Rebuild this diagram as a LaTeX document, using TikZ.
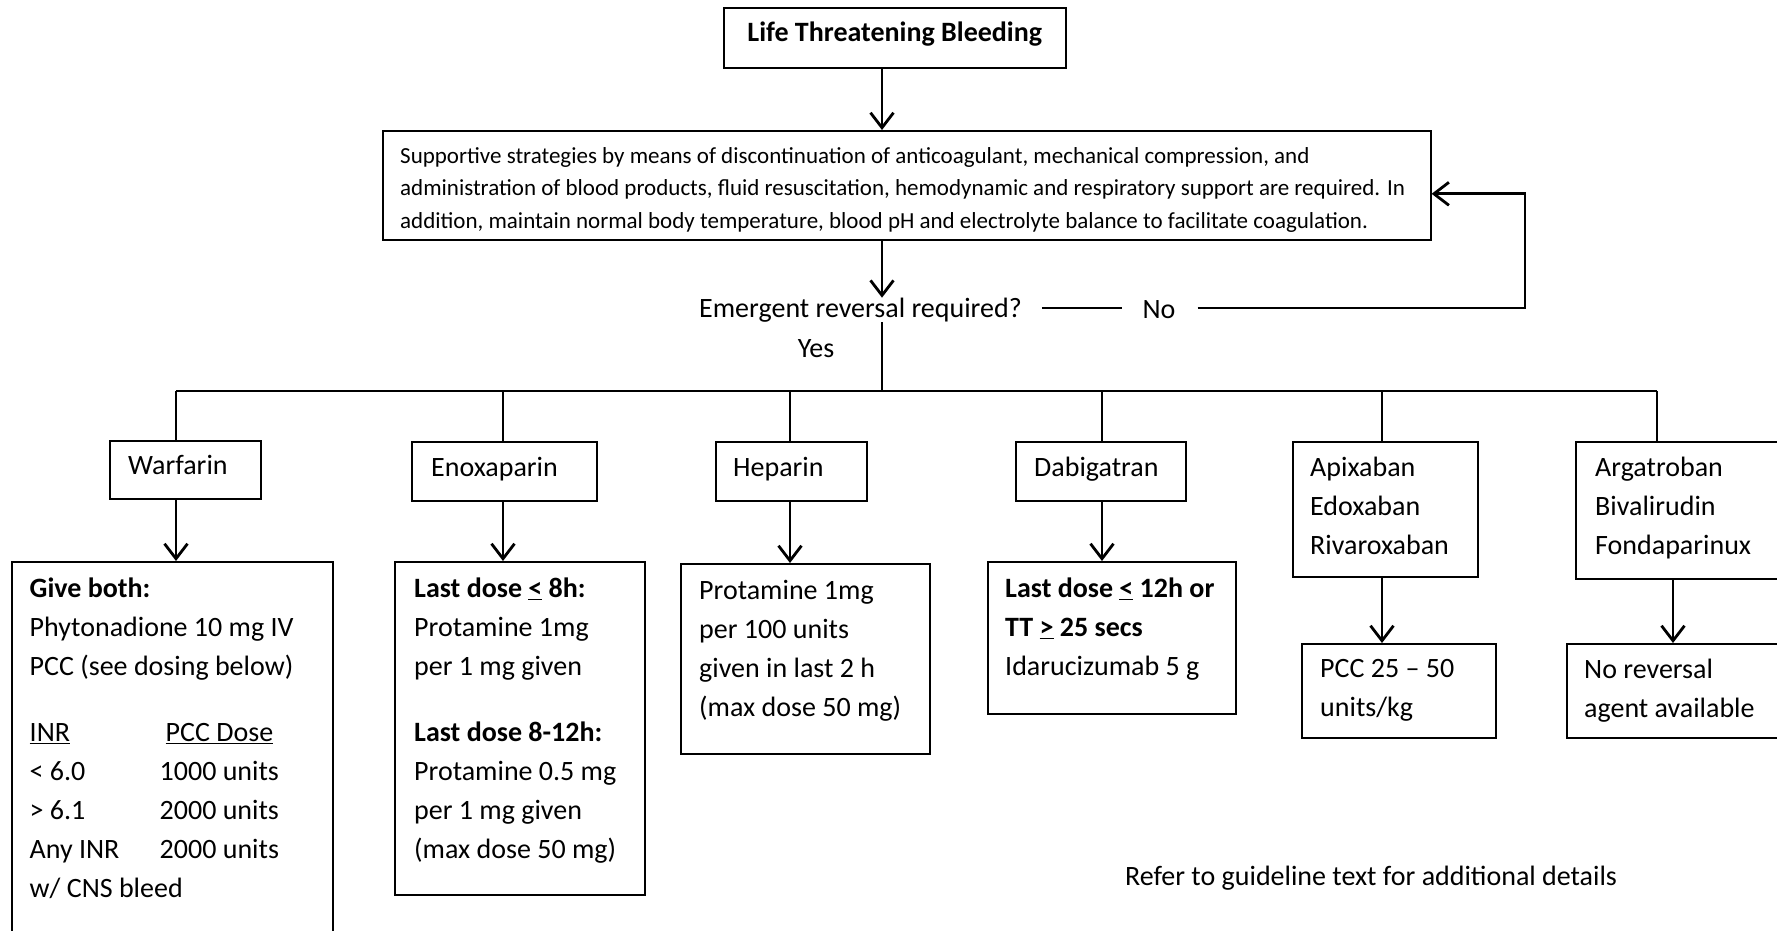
\documentclass[tikz,border=0pt]{standalone}
\usepackage{fontspec}
\setmainfont{Carlito}
\usetikzlibrary{arrows.meta}
\begin{document}
\begin{tikzpicture}[x=1pt,y=-1pt,
  box/.style={draw, line width=1.6pt, inner sep=0pt, anchor=north west},
  txt/.style={anchor=north west, align=left, inner sep=0pt, font=\fontsize{28}{39}\selectfont},
  conn/.style={line width=2.8pt},
  arr/.style={line width=2.8pt, -{Straight Barb[length=15pt,width=23pt]}}]
\useasboundingbox (0,0) rectangle (1777,930);
\fill[white] (0,0) rectangle (1777,930);
\clip (0,0) rectangle (1777,930);
% top
\node[box, minimum width=342pt, minimum height=60pt, text height=20pt, text depth=12pt, font=\fontsize{28}{30}\selectfont\bfseries] (top) at (723,7) {Life Threatening Bleeding};
\node[box, minimum width=1048pt, minimum height=109pt] (supp) at (382,130) {};
\node[txt, font=\fontsize{23}{32.5}\selectfont] (suppt) at (400,147) {Supportive strategies by means of discontinuation of anticoagulant, mechanical compression, and\\
administration of blood products, fluid resuscitation, hemodynamic and respiratory support are required.  In\\
addition, maintain normal body temperature, blood pH and electrolyte balance to facilitate coagulation.};
\node[txt, anchor=west] (q) at (699,310) {Emergent reversal required?};
\node[txt, anchor=center] (no) at (1159,310) {No};
\node[txt, anchor=center] (yes) at (816,349) {Yes};
% drug boxes
\node[box, minimum width=151pt, minimum height=58pt] (warf) at (109,440) {};
\node[txt] (warft) at (128,455) {Warfarin};
\node[box, minimum width=185pt, minimum height=59pt] (enox) at (411,441) {};
\node[txt] (enoxt) at (431,457) {Enoxaparin};
\node[box, minimum width=151pt, minimum height=59pt] (hep) at (715,441) {};
\node[txt] (hept) at (733,457) {Heparin};
\node[box, minimum width=170pt, minimum height=59pt] (dab) at (1015,441) {};
\node[txt] (dabt) at (1034,457) {Dabigatran};
\node[box, minimum width=185pt, minimum height=135pt] (apix) at (1292,441) {};
\node[txt] (apixt) at (1310,457) {Apixaban\\Edoxaban\\Rivaroxaban};
\node[box, minimum width=215pt, minimum height=137pt] (arg) at (1575,441) {};
\node[txt] (argt) at (1595,457) {Argatroban\\Bivalirudin\\Fondaparinux};
% result boxes
\node[box, minimum width=321pt, minimum height=400pt] (warfr) at (11,561) {};
\node[txt] (warfrt) at (29.5,578) {\textbf{Give both:}\\
Phytonadione 10 mg IV\\
PCC (see dosing below)\\[27pt]
\makebox[136pt][l]{\underline{INR}}\underline{PCC Dose}\\
\makebox[130pt][l]{< 6.0}1000 units\\
\makebox[130pt][l]{> 6.1}2000 units\\
\makebox[130pt][l]{Any INR}2000 units\\
w/ CNS bleed};
\node[box, minimum width=250pt, minimum height=333pt] (enoxr) at (394,561) {};
\node[txt] (enoxrt) at (414,578) {\textbf{Last dose \underline{<} 8h:}\\
Protamine 1mg\\
per 1 mg given\\[27pt]
\textbf{Last dose 8-12h:}\\
Protamine 0.5 mg\\
per 1 mg given\\
(max dose 50 mg)};
\node[box, minimum width=249pt, minimum height=190pt] (hepr) at (680,563) {};
\node[txt] (heprt) at (699,580) {Protamine 1mg\\per 100 units\\given in last 2 h\\(max dose 50 mg)};
\node[box, minimum width=248pt, minimum height=152pt] (dabr) at (987,561) {};
\node[txt] (dabrt) at (1005,578) {\textbf{Last dose \underline{<} 12h or}\\\textbf{TT \underline{>} 25 secs}\\Idarucizumab 5 g};
\node[box, minimum width=194pt, minimum height=94pt] (apixr) at (1301,643) {};
\node[txt] (apixrt) at (1320,659) {PCC 25 – 50\\units/kg};
\node[box, minimum width=230pt, minimum height=94pt] (argr) at (1566,643) {};
\node[txt] (argrt) at (1584,659) {No reversal\\agent available};
\node[txt, anchor=west] (note) at (1125,878) {Refer to guideline text for additional details};
% connectors
\coordinate (j) at (882,391);
\coordinate (cw) at (176,391);
\coordinate (ce) at (503,391);
\coordinate (ch) at (790,391);
\coordinate (cd) at (1102,391);
\coordinate (cp) at (1382,391);
\coordinate (ca) at (1657,391);
\coordinate (aa) at (1673,391);
\coordinate (nr) at (1525,308);
\draw[arr] (top.south -| j) -- (supp.north -| j);
\draw[arr] (supp.south -| j) -- (q.north -| j);
\draw[conn] (q.south -| j) -- (j);
\draw[conn] ([xshift=20pt]q.east |- nr) -- ([xshift=-20pt]no.west |- nr);
\draw[arr] ([xshift=22pt]no.east |- nr) -- (nr) |- ([yshift=-8.5pt]supp.east);
\draw[conn] (cw) -- (ca);
\draw[conn] (cw) -- (warf.north -| cw);
\draw[conn] (ce) -- (enox.north -| ce);
\draw[conn] (ch) -- (hep.north -| ch);
\draw[conn] (cd) -- (dab.north -| cd);
\draw[conn] (cp) -- (apix.north -| cp);
\draw[conn] (ca) -- (arg.north -| ca);
\draw[arr] (warf.south -| cw) -- (warfr.north -| cw);
\draw[arr] (enox.south -| ce) -- (enoxr.north -| ce);
\draw[arr] (hep.south -| ch) -- (hepr.north -| ch);
\draw[arr] (dab.south -| cd) -- (dabr.north -| cd);
\draw[arr] (apix.south -| cp) -- (apixr.north -| cp);
\draw[arr] (arg.south -| aa) -- (argr.north -| aa);
\end{tikzpicture}
\end{document}
